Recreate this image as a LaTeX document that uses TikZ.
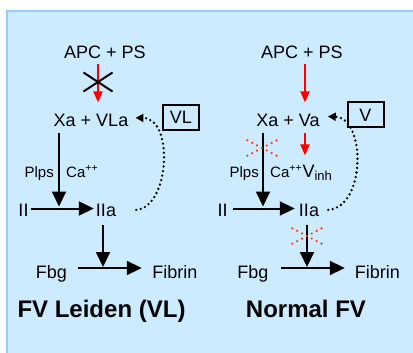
\documentclass[tikz,border=0pt]{standalone}
\usepackage{fontspec}
\setmainfont{Liberation Sans}
\usepackage{xcolor}
\usepackage{tikz}
\usetikzlibrary{arrows.meta,shapes.misc}
\definecolor{panelblue}{RGB}{204,235,255}
\definecolor{edgeblue}{RGB}{153,204,255}
\definecolor{blockred}{RGB}{255,51,0}

\begin{document}
\begin{tikzpicture}[x=1pt,y=-1pt,
  lbl/.style={font=\fontsize{18}{20}\selectfont, inner xsep=2pt, inner ysep=4pt},
  sml/.style={font=\fontsize{15}{17}\selectfont, inner xsep=2pt, inner ysep=2pt},
  ttl/.style={font=\fontsize{24}{26}\selectfont\bfseries},
  main/.style={line width=2pt, -{Triangle[length=15pt,width=14pt]}},
  apc/.style={red, line width=2pt, -{Triangle[length=11pt,width=9pt]}},
  fb/.style={line width=2.6pt, line cap=round, dash pattern=on 0pt off 4.6pt, -{Triangle[length=8pt,width=8pt]}},
  fvbox/.style={draw, line width=2pt, font=\fontsize{18}{20}\selectfont, minimum width=36pt, minimum height=25pt, inner sep=0pt},
  blockmark/.style={cross out, draw, line width=2pt, minimum width=27pt, minimum height=17pt, inner sep=0pt},
  dotblock/.style={cross out, draw=blockred, line width=2.4pt, line cap=round, dash pattern=on 0pt off 5.5pt, minimum width=27pt, minimum height=13pt, inner sep=0pt}]
\useasboundingbox (0,0) rectangle (413,353);
\fill[panelblue] (6,10) rectangle (413,353);
\draw[edgeblue, line width=2pt] (6.5,353) -- (6.5,11) -- (413,11);

% FV Leiden
\node[lbl, anchor=base] (apcL) at (105,59) {APC + PS};
\node[lbl, anchor=base] (xaL) at (91,127) {Xa + VLa};
\node[fvbox] (vlbox) at (181,117.5) {VL};
\node[sml, anchor=base east] (plpsL) at (56,177) {Plps};
\node[sml, anchor=base west] (caL) at (64,177) {Ca\textsuperscript{++}};
\node[lbl, anchor=base] (iiL) at (23.5,216) {II};
\node[lbl, anchor=base] (iiaL) at (106,216) {IIa};
\node[lbl, anchor=base] (fbgL) at (51.5,278) {Fbg};
\node[lbl, anchor=base] (fibL) at (175,278) {Fibrin};
\node[ttl, anchor=base] (nameL) at (101.5,317) {FV Leiden (VL)};
\coordinate (aL) at (98,0);
\coordinate (jL) at (59,208.5);
\coordinate (kL) at (103,268);

\draw[apc, shorten <=1pt, shorten >=8pt] (apcL.south -| aL) -- (xaL.north -| aL);
\node[blockmark] (stopL) at (98,82) {};
\draw[main, shorten <=2pt, shorten >=2pt] (xaL.south -| jL) -- (jL);
\draw[main] (iiL.east |- jL) -- (iiaL.west |- jL);
\draw[main, shorten <=5pt, shorten >=1pt] (iiaL.south -| kL) -- (kL);
\draw[main, shorten <=9pt, shorten >=8.5pt] (fbgL.east |- kL) -- (fibL.west |- kL);
\draw[fb] ([xshift=18pt]iiaL.east) .. controls (170,207) and (174,118) .. ([xshift=5pt,yshift=3pt]xaL.east);

% Normal FV
\node[lbl, anchor=base] (apcR) at (302,59) {APC + PS};
\node[lbl, anchor=base] (xaR) at (288,127) {Xa + Va};
\node[fvbox] (vbox) at (365.5,115) {V};
\node[sml, anchor=base east] (plpsR) at (261,177) {Plps};
\node[sml, anchor=base west] (caR) at (268,177) {Ca\textsuperscript{++}};
\node[sml, anchor=base west, inner xsep=0pt] (vinhR) at ([xshift=-2pt]caR.base east) {{\fontsize{18}{20}\selectfont V}\raisebox{-3pt}{\fontsize{13}{15}\selectfont inh}};
\node[lbl, anchor=base] (iiR) at (222.5,216) {II};
\node[lbl, anchor=base] (iiaR) at (309,216) {IIa};
\node[lbl, anchor=base] (fbgR) at (253,278) {Fbg};
\node[lbl, anchor=base] (fibR) at (377.5,278) {Fibrin};
\node[ttl, anchor=base] (nameR) at (306,317) {Normal FV};
\coordinate (aR) at (305,0);
\coordinate (jR) at (263,208.5);
\coordinate (kR) at (307,268);

\draw[apc, shorten <=1pt, shorten >=8pt] (apcR.south -| aR) -- (xaR.north -| aR);
\draw[apc, shorten <=2pt, shorten >=7pt] (xaR.south -| aR) -- (vinhR.north -| aR);
\draw[main, shorten <=2pt, shorten >=2pt] (xaR.south -| jR) -- (jR);
\node[dotblock] (stopR1) at (262,148) {};
\draw[main, shorten <=3.5pt, shorten >=2pt] (iiR.east |- jR) -- (iiaR.west |- jR);
\draw[main, shorten <=5pt, shorten >=1pt] (iiaR.south -| kR) -- (kR);
\node[dotblock] (stopR2) at (307,236) {};
\draw[main, shorten <=10.5pt, shorten >=8pt] (fbgR.east |- kR) -- (fibR.west |- kR);
\draw[fb] ([xshift=7pt]iiaR.east) .. controls (366,207) and (366,118) .. ([xshift=6pt,yshift=4.5pt]xaR.east);
\end{tikzpicture}
\end{document}
